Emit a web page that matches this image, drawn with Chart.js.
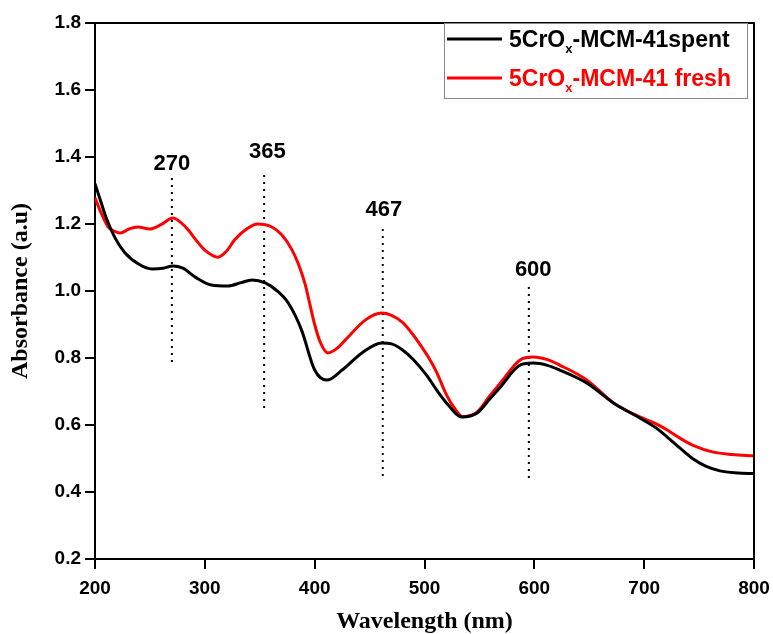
<!DOCTYPE html>
<html>
<head>
<meta charset="utf-8">
<script src="https://cdn.jsdelivr.net/npm/chart.js@4.4.1/dist/chart.umd.min.js"></script>
<style>
  body { margin: 0; background: #fff; }
  #wrap { width: 773px; height: 634px; }
</style>
</head>
<body>
<div id="wrap"><canvas id="uv" width="773" height="634"></canvas></div>
<script>
// Spectrum of the spent sample (wavelength nm / absorbance)
const spentWl = [200, 205, 210, 218, 227, 240, 252, 262, 271, 280, 292, 306, 321, 333, 343, 355, 366, 376, 388, 400, 411, 425, 443, 461, 470, 480, 490, 502, 512, 520, 534, 548, 560, 569, 587, 599, 612, 623, 648, 672, 696, 710, 721, 733, 744, 756, 769, 785, 800];
const spentAbs = [1.32, 1.27, 1.22, 1.16, 1.115, 1.08, 1.066, 1.068, 1.075, 1.068, 1.04, 1.018, 1.015, 1.025, 1.033, 1.024, 1.0, 0.964, 0.884, 0.764, 0.734, 0.764, 0.815, 0.845, 0.842, 0.824, 0.795, 0.748, 0.70, 0.666, 0.624, 0.636, 0.68, 0.713, 0.779, 0.785, 0.778, 0.764, 0.725, 0.666, 0.621, 0.593, 0.564, 0.53, 0.5, 0.477, 0.463, 0.457, 0.455];

// Spectrum of the fresh sample
const freshWl = [200, 206, 212, 218, 223, 231, 239, 250, 260, 271, 278, 285, 292, 300, 312, 320, 327, 338, 348, 361, 370, 379, 385, 391, 396, 400, 405, 412, 420, 428, 446, 461, 470, 480, 488, 496, 504, 511, 520, 528, 535, 548, 559, 569, 587, 599, 612, 623, 648, 672, 696, 710, 721, 733, 744, 763, 780, 800];
const freshAbs = [1.278, 1.23, 1.191, 1.178, 1.173, 1.185, 1.191, 1.185, 1.198, 1.218, 1.205, 1.182, 1.152, 1.122, 1.101, 1.12, 1.152, 1.185, 1.2, 1.191, 1.168, 1.125, 1.082, 1.024, 0.955, 0.9, 0.848, 0.815, 0.828, 0.854, 0.913, 0.934, 0.927, 0.906, 0.876, 0.84, 0.8, 0.758, 0.69, 0.647, 0.625, 0.639, 0.685, 0.725, 0.794, 0.803, 0.795, 0.779, 0.734, 0.666, 0.624, 0.605, 0.585, 0.56, 0.54, 0.519, 0.512, 0.508];

// Peak markers (dotted verticals + labels)
const peakLabels = ['270', '365', '467', '600'];
const peakLineWl = [270, 354, 462, 595];
const peakLineTop = [1.337, 1.361, 1.188, 1.024];
const peakLineBottom = [0.788, 0.651, 0.448, 0.442];
const peakLabelWl = [270, 357, 463, 599];
const peakLabelAbs = [1.361, 1.397, 1.224, 1.045];

// Legend text, split around the subscript
const seriesNames = [['5CrO', 'x', '-MCM-41spent'], ['5CrO', 'x', '-MCM-41 fresh']];
const seriesColors = ['#000000', '#ff0000'];

const xTicks = [200, 300, 400, 500, 600, 700, 800];

function toPoints(xs, ys) {
    return xs.map((x, i) => ({ x: x, y: ys[i] }));
}

const datasets = [
    {
        label: seriesNames[0].join(''),
        data: toPoints(spentWl, spentAbs),
        borderColor: seriesColors[0],
        borderWidth: 3,
        pointRadius: 0,
        cubicInterpolationMode: 'monotone'
    },
    {
        label: seriesNames[1].join(''),
        data: toPoints(freshWl, freshAbs),
        borderColor: seriesColors[1],
        borderWidth: 3,
        pointRadius: 0,
        cubicInterpolationMode: 'monotone'
    }
];

// dotted marker lines as two-point datasets
peakLineWl.forEach((wl, i) => {
    datasets.push({
        label: 'peak ' + peakLabels[i],
        data: [{ x: wl, y: peakLineBottom[i] }, { x: wl, y: peakLineTop[i] }],
        borderColor: '#000',
        borderWidth: 2,
        borderDash: [2, 5],
        pointRadius: 0
    });
});

const decorPlugin = {
    id: 'decor',
    afterDraw(chart) {
        const ctx = chart.ctx;
        const area = chart.chartArea;
        const xs = chart.scales.x, ys = chart.scales.y;
        ctx.save();

        // frame on top and right
        ctx.strokeStyle = '#000';
        ctx.lineWidth = 2;
        ctx.beginPath();
        ctx.moveTo(area.left, area.top);
        ctx.lineTo(area.right, area.top);
        ctx.lineTo(area.right, area.bottom);
        ctx.stroke();

        // peak labels
        ctx.fillStyle = '#000';
        ctx.font = 'bold 22px "Liberation Sans", Arial, sans-serif';
        ctx.textAlign = 'center';
        ctx.textBaseline = 'alphabetic';
        peakLabels.forEach((t, i) => {
            ctx.fillText(t, xs.getPixelForValue(peakLabelWl[i]), ys.getPixelForValue(peakLabelAbs[i]));
        });

        // legend box
        const bx = 444, by = area.top, bw = 303, bh = 75;
        ctx.fillStyle = '#fff';
        ctx.fillRect(bx, by + 1, bw, bh);
        ctx.strokeStyle = '#888';
        ctx.lineWidth = 1;
        ctx.strokeRect(bx + 0.5, by + 0.5, bw, bh);

        const rowY = [39, 78];
        ctx.textAlign = 'left';
        seriesNames.forEach((parts, i) => {
            const y = rowY[i];
            ctx.strokeStyle = seriesColors[i];
            ctx.lineWidth = 3;
            ctx.beginPath();
            ctx.moveTo(447, y);
            ctx.lineTo(502, y);
            ctx.stroke();

            ctx.fillStyle = seriesColors[i];
            let x = 509;
            const base = y + 8;
            ctx.font = 'bold 23px "Liberation Sans", Arial, sans-serif';
            ctx.fillText(parts[0], x, base);
            x += ctx.measureText(parts[0]).width;
            ctx.font = 'bold 13px "Liberation Sans", Arial, sans-serif';
            ctx.fillText(parts[1], x, base + 6);
            x += ctx.measureText(parts[1]).width;
            ctx.font = 'bold 23px "Liberation Sans", Arial, sans-serif';
            ctx.fillText(parts[2], x, base);
        });
        ctx.restore();
    }
};

new Chart(document.getElementById('uv'), {
    type: 'line',
    data: { datasets: datasets },
    plugins: [decorPlugin],
    options: {
        responsive: false,
        animation: false,
        devicePixelRatio: 1,
        layout: { padding: { left: 0, top: 23, right: 19, bottom: 0 } },
        plugins: { legend: { display: false }, tooltip: { enabled: false } },
        scales: {
            x: {
                type: 'linear',
                min: 200,
                max: 800,
                afterFit: s => { s.height = 75; s.paddingLeft = 0; s.paddingRight = 0; },
                afterBuildTicks: s => { s.ticks = xTicks.map(v => ({ value: v })); },
                grid: { drawOnChartArea: false, tickLength: 10, tickColor: '#000', lineWidth: 2 },
                border: { display: true, color: '#000', width: 2 },
                ticks: {
                    color: '#000',
                    padding: 8,
                    maxRotation: 0,
                    font: { family: '"Liberation Sans", Arial, sans-serif', size: 19, weight: 'bold' }
                },
                title: {
                    display: true,
                    text: 'Wavelength (nm)',
                    color: '#000',
                    padding: 0,
                    font: { family: '"Liberation Serif", "Times New Roman", serif', size: 24, weight: 'bold', lineHeight: 1 }
                }
            },
            y: {
                min: 0.2,
                max: 1.8,
                afterFit: s => { s.width = 95; s.paddingTop = 0; s.paddingBottom = 0; },
                grid: { drawOnChartArea: false, tickLength: 10, tickColor: '#000', lineWidth: 2 },
                border: { display: true, color: '#000', width: 2 },
                ticks: {
                    color: '#000',
                    stepSize: 0.2,
                    padding: 4,
                    callback: v => v.toFixed(1),
                    font: { family: '"Liberation Sans", Arial, sans-serif', size: 19, weight: 'bold' }
                },
                title: {
                    display: true,
                    text: 'Absorbance (a.u)',
                    color: '#000',
                    padding: { top: 9, bottom: 0 },
                    font: { family: '"Liberation Serif", "Times New Roman", serif', size: 24, weight: 'bold', lineHeight: 1 }
                }
            }
        }
    }
});
</script>
</body>
</html>
